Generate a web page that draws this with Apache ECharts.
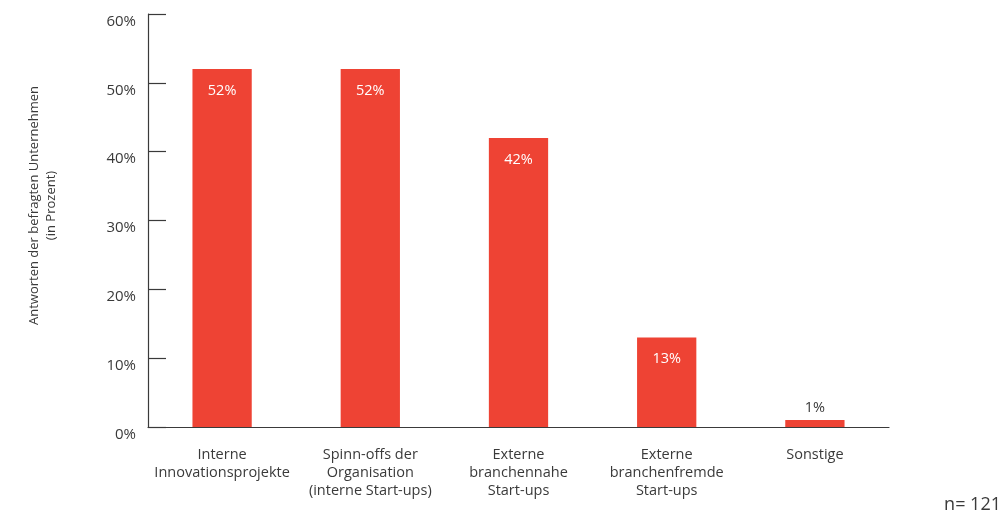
<!DOCTYPE html>
<html>
<head>
<meta charset="utf-8">
<script src="https://cdn.jsdelivr.net/npm/echarts@6/dist/echarts.min.js"></script>
<style>
  html, body { margin: 0; padding: 0; background: #fff; }
  #chart { width: 1008px; height: 518px; }
</style>
</head>
<body>
<div id="chart"></div>
<script>
// Categories of innovation sources and the share of companies naming each
const categories = [
  'Interne\nInnovationsprojekte',
  'Spinn-offs der\nOrganisation\n(interne Start-ups)',
  'Externe\nbranchennahe\nStart-ups',
  'Externe\nbranchenfremde\nStart-ups',
  'Sonstige'
];
const values = [52, 52, 42, 13, 1];
const yTicks = [0, 10, 20, 30, 40, 50, 60];

const FONT = '"Open Sans", "Noto Sans", sans-serif';
const RED = '#EE4334';
const INK = '#3a3a3a';

const chart = echarts.init(document.getElementById('chart'), null, { renderer: 'canvas' });

chart.setOption({
  animation: false,
  textStyle: { fontFamily: FONT },
  grid: { left: 148, top: 14, width: 741, height: 413, containLabel: false },
  xAxis: {
    type: 'category',
    data: categories,
    axisLine: { lineStyle: { color: INK, width: 1.2 } },
    axisTick: { inside: true, length: 8, alignWithLabel: false, lineStyle: { color: INK, width: 1.2 } },
    axisLabel: {
      color: INK, fontFamily: FONT, fontSize: 14.5, lineHeight: 18, margin: 19,
      interval: 0, align: 'center'
    }
  },
  yAxis: {
    type: 'value',
    min: yTicks[0],
    max: yTicks[yTicks.length - 1],
    interval: 10,
    name: 'Antworten der befragten Unternehmen\n(in Prozent)',
    nameLocation: 'middle',
    nameGap: 88,
    nameRotate: 90,
    nameTextStyle: { color: INK, fontFamily: FONT, fontSize: 13, lineHeight: 17, padding: [0, 0, 0, 30] },
    axisLine: { show: true, lineStyle: { color: INK, width: 1.2 } },
    axisTick: { show: true, inside: true, length: 18, lineStyle: { color: INK, width: 1.2 } },
    splitLine: { show: false },
    axisLabel: {
      color: INK, fontFamily: FONT, fontSize: 15, margin: 12,
      verticalAlign: 'top', padding: [0, 0, 0, 0],
      formatter: v => v + '%'
    }
  },
  series: [{
    type: 'bar',
    data: values.map(v => ({
      value: v,
      label: v < 5
        ? { position: 'top', color: INK, distance: 5 }
        : { position: 'insideTop', color: '#fff', distance: 14 }
    })),
    barWidth: '40%',
    itemStyle: { color: RED },
    label: {
      show: true, fontFamily: FONT, fontSize: 14.5,
      formatter: p => p.value + '%'
    }
  }],
  graphic: [{
    type: 'text',
    right: 7,
    top: 496,
    style: { text: 'n= 121', font: '18px ' + FONT, fill: INK }
  }]
});
</script>
</body>
</html>
